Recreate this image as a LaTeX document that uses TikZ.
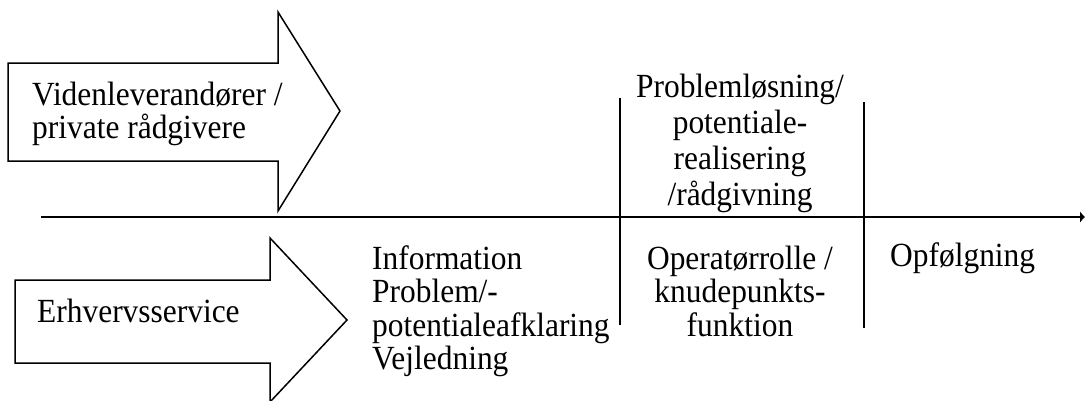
\documentclass[tikz,border=0pt]{standalone}
\usepackage{fontspec}
\setmainfont{Liberation Serif}[FakeStretch=0.93]
\usetikzlibrary{arrows.meta}
\begin{document}
\begin{tikzpicture}[x=1pt,y=-1pt,
  shapeline/.style={draw=black,line width=1.5pt,line join=miter,fill=white},
  axisline/.style={draw=black,line width=2pt},
  divline/.style={draw=black,line width=1.6pt},
  lbl/.style={inner sep=0pt,font=\fontsize{33.8}{33.5}\selectfont},
  lblwide/.style={inner sep=0pt,font=\fontsize{33.8}{36}\selectfont}]
\useasboundingbox (0,0) rectangle (1085,400);
\clip (0,0) rectangle (1085,400);
% top arrow
\draw[shapeline] (8,63) -- (278,63) -- (278,12) -- (340,111) -- (278,211) -- (278,161) -- (8,161) -- cycle;
% bottom arrow
\draw[shapeline] (15,280) -- (270,280) -- (270,238) -- (347,320) -- (270,402) -- (270,363) -- (15,363) -- cycle;
% axis
\coordinate (axs) at (41,217);
\coordinate (axe) at (1085,217);
\draw[axisline,-{Latex[length=5pt,width=12pt]}] (axs) -- (axe);
% dividers
\coordinate (d1t) at (620,98);
\coordinate (d1b) at (620,325);
\coordinate (d2t) at (864,102);
\coordinate (d2b) at (864,328);
\draw[divline] (d1t) -- (d1b);
\draw[divline] (d2t) -- (d2b);
% labels
\node[lbl,anchor=west,align=left] (vid) at (32,114) {Videnleverandører /\\private rådgivere};
\node[lbl,anchor=west] (erh) at (37,311) {Erhvervsservice};
\node[lbl,anchor=west,align=left] (info) at (372,311) {Information\\Problem/-\\potentialeafklaring\\Vejledning};
\node[lblwide,align=center] (prob) at (740,143) {Problemløsning/\\potentiale-\\realisering\\/rådgivning};
\node[lbl,align=center] (oper) at (740,291) {Operatørrolle /\\knudepunkts-\\funktion};
\node[lbl,anchor=west] (opf) at (890,258) {Opfølgning};
\end{tikzpicture}
\end{document}
